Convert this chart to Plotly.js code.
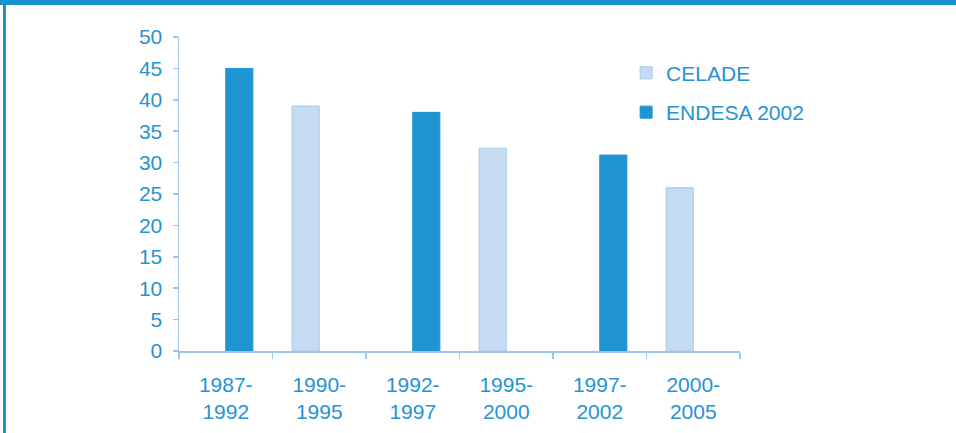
<!DOCTYPE html>
<html>
<head>
<meta charset="utf-8">
<script src="https://cdn.plot.ly/plotly-3.0.1.min.js"></script>
<style>html,body{margin:0;padding:0;background:#fff;}#chart{width:956px;height:433px;}</style>
</head>
<body>
<div id="chart"></div>
<script>
const categories = ["1987-<br>1992", "1990-<br>1995", "1992-<br>1997", "1995-<br>2000", "1997-<br>2002", "2000-<br>2005"];
const celadeValues = [null, 39, null, 32.3, null, 26];
const endesaValues = [45, null, 38, null, 31.2, null];
const seriesNames = ["CELADE", "ENDESA 2002"];
const yTicks = [0, 5, 10, 15, 20, 25, 30, 35, 40, 45, 50];

const textBlue = "#2593d4";
const axisBlue = "#9dc6ea";
const font = {family: "Liberation Sans, Arial, sans-serif", size: 21, color: textBlue};

const traces = [
  {type: "bar", name: seriesNames[0], x: categories, y: celadeValues, legendgroup: "a",
   marker: {color: "#c5dbf1", line: {color: "#a7c8ea", width: 1}}},
  {type: "bar", name: seriesNames[1], x: categories, y: endesaValues, legendgroup: "b",
   marker: {color: "#1e95d2", line: {color: "#1e95d2", width: 1}}}
];

const layout = {
  width: 956, height: 433,
  margin: {l: 179, r: 216, t: 37, b: 82},
  paper_bgcolor: "#fff", plot_bgcolor: "#fff",
  font: font,
  barmode: "group", bargap: 0.42, bargroupgap: 0,
  showlegend: true,
  legend: {x: 0.797, xanchor: "left", y: 0.95, yanchor: "top", traceorder: "grouped",
           tracegroupgap: 9, font: font, bgcolor: "rgba(0,0,0,0)"},
  xaxis: {type: "category", showline: true, linecolor: axisBlue, linewidth: 1.5,
          ticks: "outside", tickson: "boundaries", ticklen: 6, tickcolor: axisBlue, tickwidth: 1.5,
          showgrid: false, zeroline: false, tickfont: font, ticklabelstandoff: 14, fixedrange: true},
  yaxis: {range: [0, 50], tickvals: yTicks, showline: true, linecolor: axisBlue, linewidth: 1.5,
          ticks: "outside", ticklen: 5, tickcolor: axisBlue, tickwidth: 1.5,
          showgrid: false, zeroline: false, tickfont: font, ticklabelstandoff: 6, fixedrange: true},
  shapes: [
    {type: "rect", xref: "paper", yref: "paper", x0: -179/561, x1: 777/561, y0: 1 + 32/314, y1: 1 + 37/314,
     fillcolor: "#1b93d0", line: {width: 0}},
    {type: "rect", xref: "paper", yref: "paper", x0: -176/561, x1: -173/561, y0: -82/314, y1: 1 + 37/314,
     fillcolor: "#1b93d0", line: {width: 0}}
  ]
};

Plotly.newPlot("chart", traces, layout, {displayModeBar: false, staticPlot: true});
</script>
</body>
</html>
